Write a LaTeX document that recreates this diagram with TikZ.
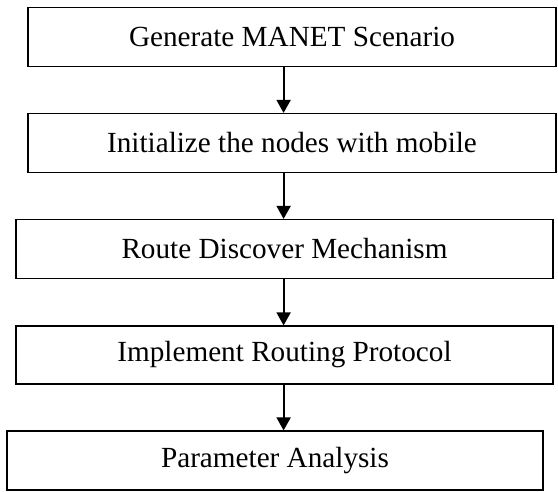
\documentclass[tikz,border=0pt]{standalone}
\usepackage{fontspec}
\setmainfont{Liberation Serif}
\usetikzlibrary{positioning,arrows.meta}

\begin{document}
\begin{tikzpicture}[
  x=1pt, y=1pt,
  box/.style={draw, line width=1.2pt, align=center,
              font=\fontsize{29.2}{33}\selectfont, inner sep=0pt,
              minimum height=59pt},
  arr/.style={-{Triangle[width=14pt,length=13pt]}, line width=1.8pt}
]
\useasboundingbox (0,0) rectangle (558,-491);
\coordinate (axis) at (283.6,0);
\node[box, minimum width=528pt] (scenario) at (292,-37)
  {Generate MANET Scenario};
\node[box, minimum width=528pt] (init) at (292,-143)
  {Initialize the nodes with mobile};
\node[box, minimum width=537pt] (route) at (284.5,-249)
  {Route Discover Mechanism};
\node[box, minimum width=537pt, minimum height=58pt] (protocol) at (284.5,-355)
  {Implement Routing Protocol};
\node[box, minimum width=536pt] (analysis) at (275,-460.5)
  {Parameter Analysis};

\draw[arr] (scenario.south -| axis) -- (init.north -| axis);
\draw[arr] (init.south -| axis) -- (route.north -| axis);
\draw[arr] (route.south -| axis) -- (protocol.north -| axis);
\draw[arr] (protocol.south -| axis) -- (analysis.north -| axis);
\end{tikzpicture}
\end{document}
